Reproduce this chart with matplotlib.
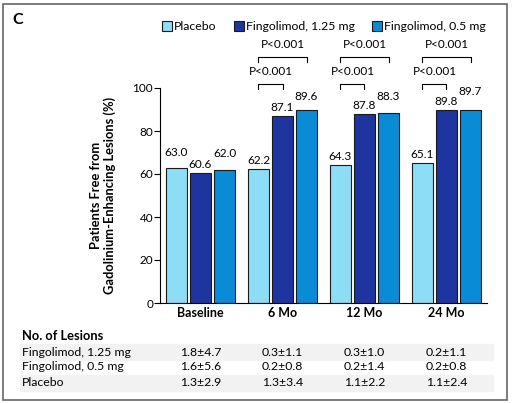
import matplotlib.pyplot as plt
import matplotlib.patches as mpatches
import matplotlib.transforms as mtransforms
import numpy as np

plt.rcParams['font.family'] = ['Lato', 'DejaVu Sans']

# datos
categorias = ['Baseline', '6 Mo', '12 Mo', '24 Mo']
series = ['Placebo', 'Fingolimod, 1.25 mg', 'Fingolimod, 0.5 mg']
placebo = [63.0, 62.2, 64.3, 65.1]
fingo_125 = [60.6, 87.1, 87.8, 89.8]
fingo_05 = [62.0, 89.6, 88.3, 89.7]
p_valores = ['', 'P<0.001', 'P<0.001', 'P<0.001']

filas_tabla = ['Fingolimod, 1.25 mg', 'Fingolimod, 0.5 mg', 'Placebo']
lesiones = [['1.8±4.7', '0.3±1.1', '0.3±1.0', '0.2±1.1'],
            ['1.6±5.6', '0.2±0.8', '0.2±1.4', '0.2±0.8'],
            ['1.3±2.9', '1.3±3.4', '1.1±2.2', '1.1±2.4']]

colores = ['#8EDDF6', '#1E35A0', '#0A8BD6']
# etiquetas levantadas para que no se pisen (por serie, por grupo)
extra = [[3, 0, 0, 0], [0, 0, 0, 0], [3.5, 2.5, 4, 5]]

fig = plt.figure(figsize=(5.15, 4.03), dpi=100)
ax = fig.add_axes([160/515, 1-303/403, (487-160)/515, (303-88)/403])

x = np.arange(len(categorias))
ancho = 0.256
paso = 0.293
valores = [placebo, fingo_125, fingo_05]
for k, (vals, col, nom) in enumerate(zip(valores, colores, series)):
    pos = x + (k-1)*paso
    ax.bar(pos, vals, ancho, color=col, edgecolor='#1a1a1a', linewidth=0.8, label=nom)
    for j, (xi, v) in enumerate(zip(pos, vals)):
        ax.text(xi, v+1.3+extra[k][j], '%.1f' % v, ha='center', va='bottom', fontsize=8.5)

# corchetes de P
for i, p in enumerate(p_valores):
    if not p:
        continue
    x0 = x[i]-paso
    for x1, yb, yt in [(x[i], 99.5, 105.0), (x[i]+paso, 112.0, 117.6)]:
        ax.plot([x0, x0, x1, x1], [yb, yb+2.4, yb+2.4, yb], color='black', lw=0.8, clip_on=False)
        ax.text((x0+x1)/2, yt, p, ha='center', va='bottom', fontsize=8.5)

ax.set_xlim(-0.494, 3.494)
ax.set_ylim(0, 100)
ax.set_yticks([0, 20, 40, 60, 80, 100])
ax.tick_params(axis='y', labelsize=8.5, length=4, width=0.8, pad=1)
ax.set_xticks(x)
ax.set_xticklabels(categorias, fontweight='bold', fontsize=9)
ax.tick_params(axis='x', length=0, pad=3)
for s in ['top', 'right']:
    ax.spines[s].set_visible(False)
ax.spines['left'].set_linewidth(0.8)
ax.spines['bottom'].set_linewidth(0.8)
ax.set_ylabel('Patients Free from\nGadolinium-Enhancing Lesions (%)', fontweight='bold',
              fontsize=9.3, labelpad=12, linespacing=1.1)

ax.legend(loc='lower left', bbox_to_anchor=(157/515, 1-37/403), bbox_transform=fig.transFigure,
          ncol=3, frameon=False, fontsize=8.8, handlelength=0.8, handleheight=0.8,
          handletextpad=0.2, columnspacing=1.4, borderaxespad=0)

fig.text(12/515, 1-20/403, 'C', fontweight='bold', fontsize=11.5, va='center')

# tabla
fig.text(22/515, 1-336/403, 'No. of Lesions', fontweight='bold', fontsize=9.3, va='center')
trans = mtransforms.blended_transform_factory(ax.transData, fig.transFigure)
ys = [352, 367, 383]
for r, (nom, fila) in enumerate(zip(filas_tabla, lesiones)):
    yc = 1-ys[r]/403
    if r != 1:
        fig.patches.append(mpatches.Rectangle((20/515, 1-(ys[r]+8)/403), 473/515, 16/403,
                                              transform=fig.transFigure, color='#F2F2F2', zorder=0))
    fig.text(22/515, yc, nom, fontsize=8.8, va='center')
    for i, val in enumerate(fila):
        fig.text(x[i], yc, val, fontsize=8.8, ha='center', va='center', transform=trans)

# marco
fig.patches.append(mpatches.Rectangle((3/515, 3/403), 504/515, 396/403, transform=fig.transFigure,
                                      fill=False, edgecolor='#666666', lw=1.2))

fig.savefig('out.png', dpi=100)
